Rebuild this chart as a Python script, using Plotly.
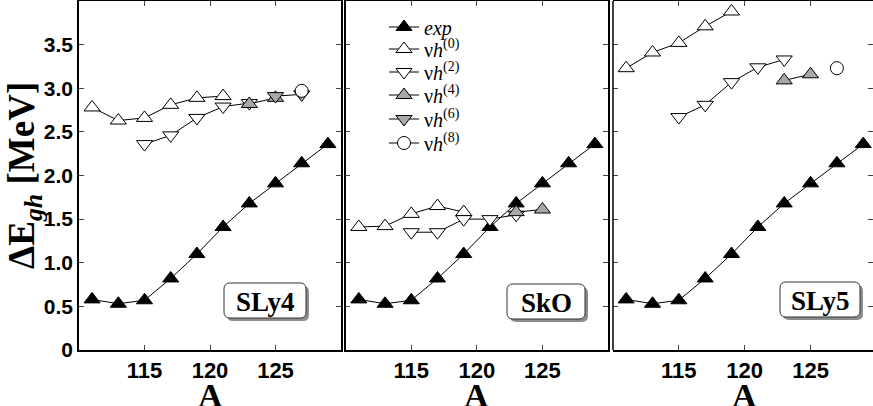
import plotly.graph_objects as go

# ---------------- data ----------------
A_exp = [111, 113, 115, 117, 119, 121, 123, 125, 127, 129]
E_exp = [0.58, 0.53, 0.57, 0.82, 1.10, 1.41, 1.68, 1.91, 2.14, 2.36]

# SLy4
sly4_h0_A = [111, 113, 115, 117, 119, 121]
sly4_h0 = [2.78, 2.63, 2.66, 2.81, 2.89, 2.91]
sly4_h2_A = [115, 117, 119, 121, 123]
sly4_h2 = [2.36, 2.46, 2.66, 2.79, 2.83]
sly4_h4_A = [123, 125]
sly4_h4 = [2.82, 2.89]
sly4_h6_A = [125, 127]
sly4_h6 = [2.91, 2.93]
sly4_h8_A = [127]
sly4_h8 = [2.97]

# SkO
sko_h0_A = [111, 113, 115, 117, 119]
sko_h0 = [1.41, 1.42, 1.56, 1.65, 1.58]
sko_h2_A = [115, 117, 119, 121, 123]
sko_h2 = [1.35, 1.35, 1.50, 1.50, 1.55]
sko_h4_A = [123, 125]
sko_h4 = [1.58, 1.61]

# SLy5
sly5_h0_A = [111, 113, 115, 117, 119]
sly5_h0 = [3.23, 3.41, 3.52, 3.71, 3.88]
sly5_h2_A = [115, 117, 119, 121, 123]
sly5_h2 = [2.67, 2.81, 3.07, 3.24, 3.33]
sly5_h4_A = [123, 125]
sly5_h4 = [3.09, 3.16]
sly5_h8_A = [127]
sly5_h8 = [3.23]

panel_names = ["SLy4", "SkO", "SLy5"]
x_tickvals = [115, 120, 125]
y_tickvals = [0, 0.5, 1.0, 1.5, 2.0, 2.5, 3.0, 3.5]
y_ticktext = ["0", "0.5", "1.0", "1.5", "2.0", "2.5", "3.0", "3.5"]

series_names = ["<i>exp</i>", "ν<i>h</i><sup>(0)</sup>", "ν<i>h</i><sup>(2)</sup>",
                "ν<i>h</i><sup>(4)</sup>", "ν<i>h</i><sup>(6)</sup>", "ν<i>h</i><sup>(8)</sup>"]

# ---------------- styling ----------------
GRAY = "#a8a8a8"
styles = [
    dict(symbol="triangle-up", color="black"),
    dict(symbol="triangle-up", color="white"),
    dict(symbol="triangle-down", color="white"),
    dict(symbol="triangle-up", color=GRAY),
    dict(symbol="triangle-down", color=GRAY),
    dict(symbol="circle", color="white"),
]

panels = [
    [(A_exp, E_exp), (sly4_h0_A, sly4_h0), (sly4_h2_A, sly4_h2), (sly4_h4_A, sly4_h4),
     (sly4_h6_A, sly4_h6), (sly4_h8_A, sly4_h8)],
    [(A_exp, E_exp), (sko_h0_A, sko_h0), (sko_h2_A, sko_h2), (sko_h4_A, sko_h4), None, None],
    [(A_exp, E_exp), (sly5_h0_A, sly5_h0), (sly5_h2_A, sly5_h2), (sly5_h4_A, sly5_h4),
     None, (sly5_h8_A, sly5_h8)],
]

W, H = 873, 406
L, T, B = 79, 1, 56
PW = W - L
PH = H - T - B


def px(x):
    return (x - L) / PW


def py(y):
    return (H - B - y) / PH


legend_ids = ["legend", "legend2", "legend3", "legend4", "legend5", "legend6"]
legend_rows = [27, 49, 72, 95, 119, 143]

fig = go.Figure()
for p, series in enumerate(panels):
    xa = "x" if p == 0 else f"x{p+1}"
    ya = "y" if p == 0 else f"y{p+1}"
    for s, data in enumerate(series):
        if data is None:
            continue
        st = styles[s]
        fig.add_trace(go.Scatter(
            x=data[0], y=data[1], xaxis=xa, yaxis=ya,
            mode="lines+markers", name=series_names[s],
            legend=legend_ids[s], showlegend=(p == 0),
            line=dict(color="black", width=1),
            marker=dict(symbol=st["symbol"], color=st["color"], size=14 if s < 5 else 13,
                        line=dict(color="black", width=1)),
            cliponaxis=False,
        ))

domains = [[0, px(341)], [px(345.7), px(608)], [px(613), 1.0]]
xranges = [[110, 130], [110, 130], [110, 110 + (W - 613) / 13.17]]

tickfont = dict(family="Liberation Sans", size=21, color="black", weight="bold")
for p in range(3):
    key = "" if p == 0 else str(p + 1)
    fig.update_layout(**{
        f"xaxis{key}": dict(
            domain=domains[p], range=xranges[p], anchor=f"y{key}",
            tickvals=x_tickvals, ticks="inside", ticklen=5, tickwidth=1.2,
            showline=True, linewidth=1.5, linecolor="black", mirror="ticks",
            showgrid=False, zeroline=False, tickfont=dict(family="Liberation Sans", size=22,
                                                         color="black", weight="bold"),
        ),
        f"yaxis{key}": dict(
            domain=[0, 1], range=[0, 4.0], anchor=f"x{key}",
            tickvals=y_tickvals, ticktext=y_ticktext, showticklabels=(p == 0),
            ticks="inside", ticklen=5, tickwidth=1.2,
            showline=(p < 2), linewidth=1.5, linecolor="black", mirror="ticks",
            showgrid=False, zeroline=False, tickfont=tickfont,
        ),
    })

# left border of the third panel (its right border lies outside the picture)
fig.add_shape(type="line", xref="paper", yref="paper", x0=px(613), x1=px(613), y0=0, y1=1,
              line=dict(color="black", width=1.5))


def rrect(x0, y0, x1, y1, r):
    pts = [
        ("M", [(x0 + r, y0)]), ("L", [(x1 - r, y0)]), ("Q", [(x1, y0), (x1, y0 + r)]),
        ("L", [(x1, y1 - r)]), ("Q", [(x1, y1), (x1 - r, y1)]), ("L", [(x0 + r, y1)]),
        ("Q", [(x0, y1), (x0, y1 - r)]), ("L", [(x0, y0 + r)]), ("Q", [(x0, y0), (x0 + r, y0)]),
    ]
    out = ""
    for cmd, ps in pts:
        out += cmd + " ".join(f"{px(a):.5f},{py(b):.5f}" for a, b in ps) + " "
    return out + "Z"


boxes = [(224, 283, 306, 318), (507, 284, 585, 319), (780, 282, 860, 317)]
for (x0, y0, x1, y1), name in zip(boxes, panel_names):
    fig.add_shape(type="path", xref="paper", yref="paper", path=rrect(x0 + 3, y0 + 3, x1 + 3, y1 + 3, 6),
                  fillcolor="#8c8c8c", line=dict(width=0))
    fig.add_shape(type="path", xref="paper", yref="paper", path=rrect(x0, y0, x1, y1, 6),
                  fillcolor="white", line=dict(color="#333333", width=1))
    fig.add_annotation(x=px((x0 + x1) / 2), y=py((y0 + y1) / 2 + 1), xref="paper", yref="paper",
                       text=f"<b>{name}</b>", showarrow=False, xanchor="center", yanchor="middle",
                       font=dict(family="Liberation Serif", size=27, color="black"))

# axis titles
fig.add_annotation(x=px(24), y=py(176), xref="paper", yref="paper", textangle=-90,
                   text="<b>ΔE<sub><i>gh</i></sub> [MeV]</b>", showarrow=False,
                   xanchor="center", yanchor="middle",
                   font=dict(family="Liberation Serif", size=37, color="black"))
for d in domains:
    cx = (d[0] + d[1]) / 2
    if d[1] == 1.0:
        cx = px(744.5)
    fig.add_annotation(x=cx, y=py(395), xref="paper", yref="paper", text="<b>A</b>",
                       showarrow=False, xanchor="center", yanchor="middle",
                       font=dict(family="Liberation Serif", size=34, color="black"))

legend_layout = {}
for lid, row in zip(legend_ids, legend_rows):
    legend_layout[lid] = dict(
        x=px(384), y=py(row), xanchor="left", yanchor="middle",
        bgcolor="rgba(0,0,0,0)", borderwidth=0,
        font=dict(family="Liberation Serif", size=20, color="black"),
    )

fig.update_layout(
    width=W, height=H, margin=dict(l=L, r=0, t=T, b=B),
    paper_bgcolor="white", plot_bgcolor="white",
    showlegend=True,
    **legend_layout,
)

fig.write_html("out.html")
